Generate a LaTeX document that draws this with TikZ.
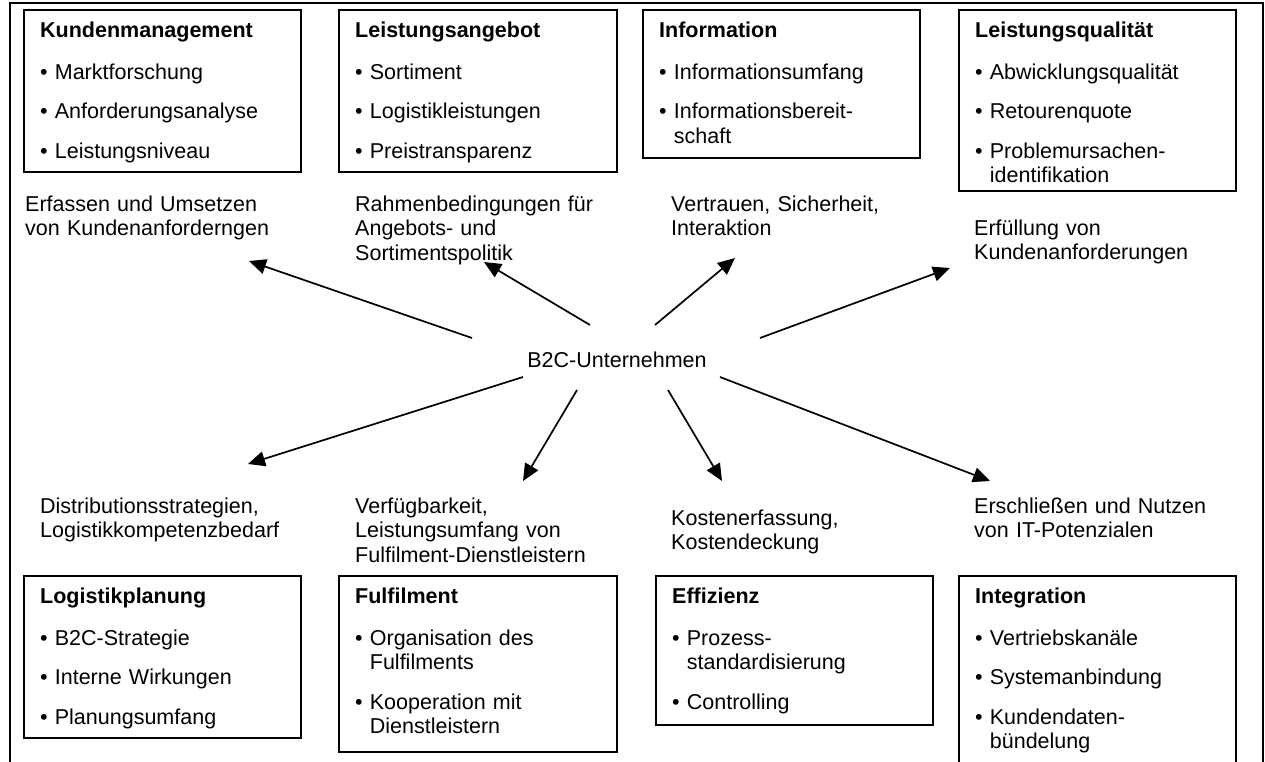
\documentclass[tikz,border=0pt]{standalone}
\usepackage{fontspec}
\setmainfont{Liberation Sans}
\usetikzlibrary{arrows.meta,calc}

% body font and list helpers
\newcommand{\bodyfont}{\fontsize{21.5}{24.5}\selectfont}
\newcommand{\boxhead}[1]{\rule{0pt}{17pt}\textbf{#1}\par\vspace{2.5pt}}
\newcommand{\bitem}[1]{\setbox0\hbox{\textbullet\ }\hangindent=\wd0\hangafter=1\textbullet\ #1\par}

\tikzset{
  panel/.style={draw, line width=1.8pt, anchor=north west, inner sep=0pt, minimum width=277pt},
  paneltext/.style={anchor=north west, inner sep=0pt, text width=258pt, align=left,
    font=\bodyfont, execute at begin node={\parindent=0pt\parskip=15pt}},
  lbl/.style={anchor=north west, inner sep=0pt, text width=290pt, align=left,
    font=\bodyfont, execute at begin node={\parindent=0pt\rule{0pt}{17pt}}},
  arr/.style={line width=1.7pt, -{Triangle[length=17pt,width=15pt]}},
  rim/.style={line width=2.5pt}
}

\begin{document}
\begin{tikzpicture}[x=1pt,y=-1pt]
\clip (0,0) rectangle (1265,762);
\fill[white] (0,0) rectangle (1265,762);

% outer frame, open at the bottom
\coordinate (fa) at (10,800);
\coordinate (fb) at (10,3);
\coordinate (fc) at (1263,3);
\coordinate (fd) at (1263,800);
\draw[rim] (fa) -- (fb) -- (fc) -- (fd);

% ---------- upper panels ----------
\node[panel, minimum height=162pt] (km) at (23,9) {};
\node[paneltext] (kmt) at ($(km.north west)+(17,11)$) {%
  \boxhead{Kundenmanagement}
  \bitem{Marktforschung}
  \bitem{Anforderungsanalyse}
  \bitem{Leistungsniveau}};

\node[panel, minimum width=278pt, minimum height=162pt] (la) at (338,9) {};
\node[paneltext] (lat) at ($(la.north west)+(17,11)$) {%
  \boxhead{Leistungsangebot}
  \bitem{Sortiment}
  \bitem{Logistikleistungen}
  \bitem{Preistransparenz}};

\node[panel, minimum height=148pt] (inf) at (642,9) {};
\node[paneltext] (inft) at ($(inf.north west)+(17,11)$) {%
  \boxhead{Information}
  \bitem{Informationsumfang}
  \bitem{Informationsbereit-\newline schaft}};

\node[panel, minimum height=181pt] (lq) at (958,9) {};
\node[paneltext] (lqt) at ($(lq.north west)+(17,11)$) {%
  \boxhead{Leistungsqualität}
  \bitem{Abwicklungsqualität}
  \bitem{Retourenquote}
  \bitem{Problemursachen-\newline identifikation}};

% ---------- lower panels ----------
\node[panel, minimum height=162pt] (lp) at (23,575) {};
\node[paneltext] (lpt) at ($(lp.north west)+(17,11)$) {%
  \boxhead{Logistikplanung}
  \bitem{B2C-Strategie}
  \bitem{Interne Wirkungen}
  \bitem{Planungsumfang}};

\node[panel, minimum width=278pt, minimum height=176pt] (ff) at (338,575) {};
\node[paneltext] (fft) at ($(ff.north west)+(17,11)$) {%
  \boxhead{Fulfilment}
  \bitem{Organisation des\newline Fulfilments}
  \bitem{Kooperation mit\newline Dienstleistern}};

\node[panel, minimum height=149pt] (ef) at (655,575) {};
\node[paneltext] (eft) at ($(ef.north west)+(17,11)$) {%
  \boxhead{Effizienz}
  \bitem{Prozess-\newline standardisierung}
  \bitem{Controlling}};

\node[panel, minimum height=230pt] (ig) at (958,575) {};
\node[paneltext] (igt) at ($(ig.north west)+(17,11)$) {%
  \boxhead{Integration}
  \bitem{Vertriebskanäle}
  \bitem{Systemanbindung}
  \bitem{Kundendaten-\newline bündelung}};

% ---------- effect labels ----------
\node[lbl] (l1) at (25,194) {Erfassen und Umsetzen\\von Kundenanforderngen};
\node[lbl] (l2) at (355,194) {Rahmenbedingungen für\\Angebots- und\\Sortimentspolitik};
\node[lbl] (l3) at (671,194) {Vertrauen, Sicherheit,\\Interaktion};
\node[lbl] (l4) at (974,218) {Erfüllung von\\Kundenanforderungen};

\node[lbl] (b1) at (40,496) {Distributionsstrategien,\\Logistikkompetenzbedarf};
\node[lbl] (b2) at (355,496) {Verfügbarkeit,\\Leistungsumfang von\\Fulfilment-Dienstleistern};
\node[lbl] (b3) at (671,508) {Kostenerfassung,\\Kostendeckung};
\node[lbl] (b4) at (974,496) {Erschließen und Nutzen\\von IT-Potenzialen};

% ---------- hub and arrows ----------
\node[font=\bodyfont, inner sep=0pt] (hub) at (617,360) {B2C-Unternehmen};

\coordinate (s1) at ($(hub.center)+(-145,-22)$);
\coordinate (s2) at ($(hub.center)+(-27,-35)$);
\coordinate (s3) at ($(hub.center)+(38,-35)$);
\coordinate (s4) at ($(hub.center)+(143,-22)$);
\coordinate (s5) at ($(hub.center)+(-94,17)$);
\coordinate (s6) at ($(hub.center)+(-40,30)$);
\coordinate (s7) at ($(hub.center)+(51,30)$);
\coordinate (s8) at ($(hub.center)+(103,17)$);

\coordinate (t1) at (249,261);
\coordinate (t2) at (484,262);
\coordinate (t3) at (735,258);
\coordinate (t4) at (950,268);
\coordinate (t5) at (248,464);
\coordinate (t6) at (523,481);
\coordinate (t7) at (722,481);
\coordinate (t8) at (990,481);

\foreach \i in {1,...,8} \draw[arr] (s\i) -- (t\i);
\end{tikzpicture}
\end{document}
